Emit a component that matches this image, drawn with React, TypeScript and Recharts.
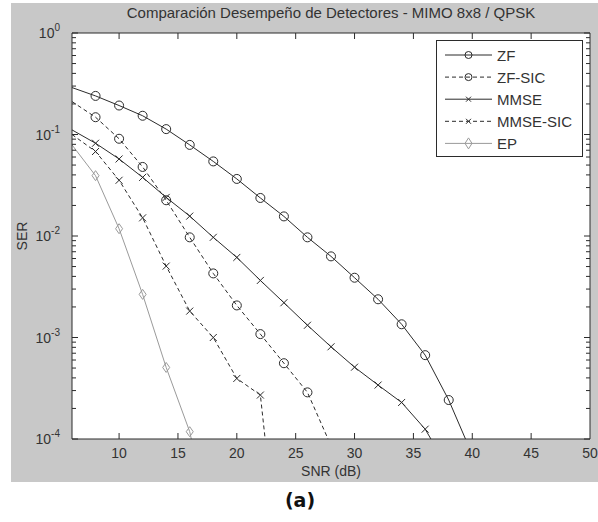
import React from 'react';
import { LineChart, Line, XAxis, YAxis, CartesianGrid } from 'recharts';

// SNR (dB) sample points
const snr = [6, 8, 10, 12, 14, 16, 18, 20, 22, 24, 26, 28, 30, 32, 34, 36, 38, 40];

// symbol error rate per detector
const zf = [0.29, 0.24, 0.193, 0.153, 0.113, 0.079, 0.0543, 0.0365, 0.0237, 0.0156, 0.0097, 0.0063, 0.00388, 0.00238, 0.00135, 0.00067, 0.000242, 0.00007];
const zfSic = [0.211, 0.148, 0.0908, 0.0479, 0.0225, 0.0097, 0.00428, 0.00207, 0.00108, 0.000558, 0.000288, 0.000086];
const mmse = [0.111, 0.082, 0.0574, 0.0378, 0.024, 0.0157, 0.0097, 0.00615, 0.00365, 0.0022, 0.00132, 0.00081, 0.00051, 0.00034, 0.000229, 0.000125, 0.00005];
const mmseSic = [0.1, 0.068, 0.0354, 0.0151, 0.00505, 0.00182, 0.001, 0.000395, 0.000271, 0.000002];
const ep = [0.079, 0.0393, 0.0118, 0.00266, 0.000507, 0.000118, 0.00001];

const xTicks = [10, 15, 20, 25, 30, 35, 40, 45, 50];
const decades = [-4, -3, -2, -1, 0];

const data = snr.map((s, i) => ({
  snr: s,
  zf: zf[i],
  zfSic: zfSic[i],
  mmse: mmse[i],
  mmseSic: mmseSic[i],
  ep: ep[i],
}));

// major + minor log ticks
const yTicks: number[] = [];
decades.forEach((d) => {
  if (d === 0) {
    yTicks.push(1);
    return;
  }
  for (let m = 1; m < 10; m++) yTicks.push(m * Math.pow(10, d));
});

const DARK = '#2b2b2b';
const GRAY = '#9a9a9a';
const TEXT = '#333';
const FONT = '"Liberation Sans", Arial, sans-serif';

const series = [
  { key: 'zf', name: 'ZF', color: DARK, dash: undefined, marker: 'circle' },
  { key: 'zfSic', name: 'ZF-SIC', color: DARK, dash: '4 3', marker: 'circle' },
  { key: 'mmse', name: 'MMSE', color: DARK, dash: undefined, marker: 'x' },
  { key: 'mmseSic', name: 'MMSE-SIC', color: DARK, dash: '4 3', marker: 'x' },
  { key: 'ep', name: 'EP', color: GRAY, dash: undefined, marker: 'diamond' },
];

function Marker({ kind, x, y, color, small }: { kind: string; x: number; y: number; color: string; small?: boolean }) {
  if (kind === 'circle') {
    const r = small ? 3.5 : 4.5;
    return <circle cx={x} cy={y} r={r} fill="none" stroke={color} strokeWidth={1} />;
  }
  if (kind === 'x') {
    const s = small ? 2.5 : 3.5;
    return (
      <path d={`M${x - s},${y - s}L${x + s},${y + s}M${x - s},${y + s}L${x + s},${y - s}`} stroke={color} strokeWidth={1} fill="none" />
    );
  }
  const w = 3.5;
  const h = small ? 5.5 : 5;
  return <path d={`M${x},${y - h}L${x + w},${y}L${x},${y + h}L${x - w},${y}Z`} fill="none" stroke={color} strokeWidth={1} />;
}

const makeDot = (kind: string, color: string, key: string) => (props: any) => {
  const { cx, cy, payload, index } = props;
  const v = payload ? payload[key] : undefined;
  if (cx == null || cy == null || v == null || payload.snr === 6 || v < 1e-4) return <g key={`d-${key}-${index}`} />;
  return (
    <g key={`d-${key}-${index}`}>
      <Marker kind={kind} x={cx} y={cy} color={color} />
    </g>
  );
};

const isMajor = (v: number) => Math.abs(Math.log10(v) - Math.round(Math.log10(v))) < 1e-6;

const LeftTick = (props: any) => {
  const { x, y, payload } = props;
  const major = isMajor(payload.value);
  const len = major ? 6 : 4;
  return (
    <g>
      <line x1={x} y1={y} x2={x + len} y2={y} stroke={DARK} />
      {major && (
        <text x={x - 12} y={y} dy={5} textAnchor="end" fontSize={14} fill={TEXT} fontFamily={FONT}>
          10
          <tspan dy={-7} fontSize={10}>{Math.round(Math.log10(payload.value))}</tspan>
        </text>
      )}
    </g>
  );
};

const RightTick = (props: any) => {
  const { x, y, payload } = props;
  const len = isMajor(payload.value) ? 6 : 4;
  return <line x1={x} y1={y} x2={x - len} y2={y} stroke={DARK} />;
};

const BottomTick = (props: any) => {
  const { x, y, payload } = props;
  return (
    <g>
      {payload.value < 50 && <line x1={x} y1={y} x2={x} y2={y - 6} stroke={DARK} />}
      <text x={x} y={y} dy={19} textAnchor="middle" fontSize={14} fill={TEXT} fontFamily={FONT}>
        {payload.value}
      </text>
    </g>
  );
};

const TopTick = (props: any) => {
  const { x, y, payload } = props;
  if (payload.value >= 50) return <g />;
  return <line x1={x} y1={y} x2={x} y2={y + 6} stroke={DARK} />;
};

const LegendBox = () => (
  <svg width={147} height={118} style={{ display: 'block' }}>
    <rect x={0.5} y={0.5} width={146} height={116} fill="#fff" stroke={DARK} />
    {series.map((s, i) => {
      const cy = 15 + i * 22.1;
      return (
        <g key={s.key}>
          <line x1={9} y1={cy} x2={56} y2={cy} stroke={s.color} strokeDasharray={s.dash} />
          <Marker kind={s.marker} x={32.5} y={cy} color={s.color} small />
          <text x={61} y={cy} dy={5.5} fontSize={15} fill={TEXT} fontFamily={FONT}>
            {s.name}
          </text>
        </g>
      );
    })}
  </svg>
);

export default function App() {
  return (
    <div style={{ position: 'absolute', left: 0, top: 0, width: 598, height: 522, background: '#fff', fontFamily: FONT }}>
      <div style={{ position: 'absolute', left: 11, top: 3, width: 587, height: 479, background: '#c8c8c8' }} />
      <div
        style={{ position: 'absolute', left: 0, top: 5, width: 662, textAlign: 'center', fontSize: 15, lineHeight: '15px', color: TEXT, whiteSpace: 'nowrap' }}
      >
        Comparación Desempeño de Detectores - MIMO 8x8 / QPSK
      </div>
      <div style={{ position: 'absolute', left: 0, top: 464, width: 662, textAlign: 'center', fontSize: 14, lineHeight: '14px', color: TEXT }}>
        SNR (dB)
      </div>
      <div style={{ position: 'absolute', left: 22, top: 236, width: 0, height: 0, overflow: 'visible' }}>
        <div style={{ position: 'absolute', left: -40, top: -8, width: 80, textAlign: 'center', fontSize: 14, lineHeight: '16px', color: TEXT, transform: 'rotate(-90deg)' }}>
          SER
        </div>
      </div>
      <div style={{ position: 'absolute', left: 0, top: 489, width: 600, textAlign: 'center', fontSize: 19, lineHeight: '22px', fontWeight: 'bold', color: '#111', fontFamily: '"DejaVu Sans", Verdana, sans-serif' }}>
        (a)
      </div>
      <div style={{ position: 'absolute', left: 0, top: 0 }}>
        <LineChart width={598} height={522} data={data} margin={{ top: 32, right: 7, bottom: 82, left: 71 }}>
          <CartesianGrid horizontal={false} vertical={false} fill="#fff" />
          <XAxis
            xAxisId="b"
            dataKey="snr"
            type="number"
            domain={[6, 50]}
            ticks={xTicks}
            allowDataOverflow
            height={1}
            tickSize={0}
            tickMargin={0}
            tickLine={false}
            axisLine={{ stroke: DARK }}
            tick={<BottomTick />}
            interval={0}
          />
          <XAxis
            xAxisId="t"
            orientation="top"
            dataKey="snr"
            type="number"
            domain={[6, 50]}
            ticks={xTicks}
            allowDataOverflow
            height={1}
            tickSize={0}
            tickMargin={0}
            tickLine={false}
            axisLine={{ stroke: DARK }}
            tick={<TopTick />}
            interval={0}
          />
          <YAxis
            yAxisId="l"
            scale="log"
            type="number"
            domain={[1e-4, 1]}
            ticks={yTicks}
            allowDataOverflow
            width={1}
            tickSize={0}
            tickMargin={0}
            tickLine={false}
            axisLine={{ stroke: DARK }}
            tick={<LeftTick />}
            interval={0}
          />
          <YAxis
            yAxisId="r"
            orientation="right"
            scale="log"
            type="number"
            domain={[1e-4, 1]}
            ticks={yTicks}
            allowDataOverflow
            width={1}
            tickSize={0}
            tickMargin={0}
            tickLine={false}
            axisLine={{ stroke: DARK }}
            tick={<RightTick />}
            interval={0}
          />
          {series.map((s) => (
            <Line
              key={s.key}
              xAxisId="b"
              yAxisId="l"
              dataKey={s.key}
              name={s.name}
              stroke={s.color}
              strokeWidth={1}
              strokeDasharray={s.dash}
              dot={makeDot(s.marker, s.color, s.key)}
              activeDot={false}
              isAnimationActive={false}
              connectNulls={false}
            />
          ))}
        </LineChart>
      </div>
      <div style={{ position: 'absolute', left: 436, top: 40 }}>
        <LegendBox />
      </div>
    </div>
  );
}
